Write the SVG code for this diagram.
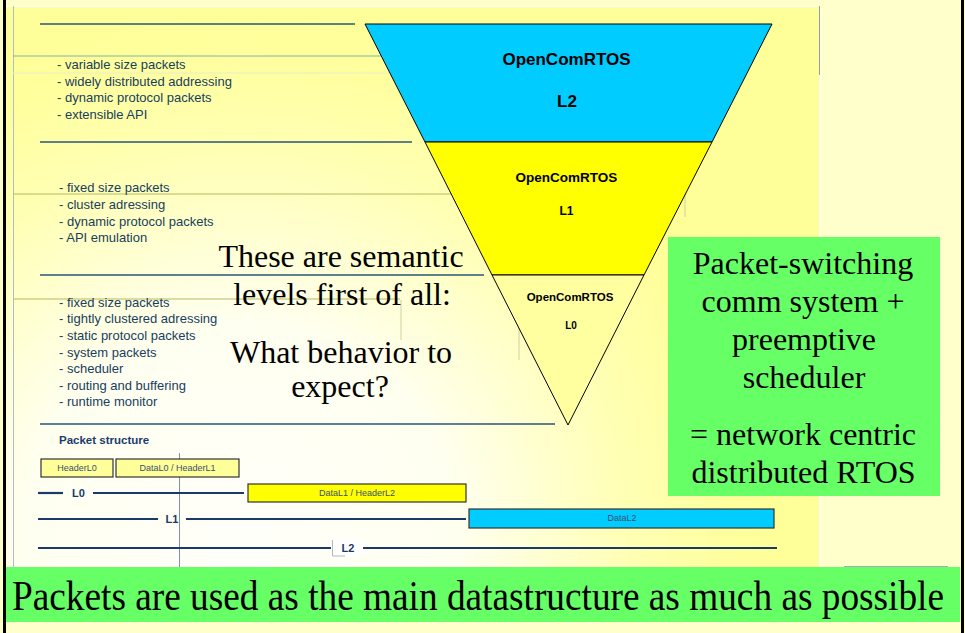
<svg xmlns="http://www.w3.org/2000/svg" width="965" height="633" viewBox="0 0 965 633">
  <defs>
    <radialGradient id="slideBg" gradientUnits="userSpaceOnUse" cx="240" cy="540" r="540">
      <stop offset="0" stop-color="#fffffa"/>
      <stop offset="0.4" stop-color="#fffff0"/>
      <stop offset="0.72" stop-color="#ffffb4"/>
      <stop offset="0.92" stop-color="#ffff9c"/>
      <stop offset="1" stop-color="#ffff99"/>
    </radialGradient>
    <style>
      .bullet { font-family: "Liberation Sans", Arial, sans-serif; font-size: 13px; fill: #18405e; }
      .serif { font-family: "Liberation Serif", "Times New Roman", serif; fill: #000; }
      .big { font-size: 32px; text-anchor: middle; }
      .tri { font-family: "Liberation Sans", Arial, sans-serif; font-weight: bold; fill: #000; text-anchor: middle; }
      .rule { stroke: #2a5578; stroke-width: 1.6; fill: none; }
      .thin { stroke-width: 1; fill: none; }
      .wire { stroke: #1a3a6a; stroke-width: 2.2; fill: none; }
      .lvl { font-family: "Liberation Sans", Arial, sans-serif; font-weight: bold; font-size: 11px; fill: #1a3a6a; text-anchor: middle; }
      .pkt { stroke: #333; stroke-width: 1.2; }
      .pktText { font-family: "Liberation Sans", Arial, sans-serif; font-size: 9px; fill: #3a5070; text-anchor: middle; }
      .edge { stroke: #000; stroke-width: 1; }
    </style>
  </defs>

  <!-- page -->
  <rect x="0" y="0" width="965" height="633" fill="#ffffcc"/>
  <rect x="6" y="6" width="814" height="561" fill="url(#slideBg)"/>
  <line x1="6" y1="6.5" x2="820" y2="6.5" stroke="#ffffff" stroke-width="1"/>
  <line x1="820" y1="6" x2="820" y2="567" stroke="#ffffff" stroke-width="1.5"/>
  <line x1="819.5" y1="6" x2="819.5" y2="75" stroke="#999999" stroke-width="1"/>
  <rect x="3" y="0" width="3" height="633" fill="#000"/>
  <rect x="961" y="0" width="3" height="633" fill="#000"/>

  <!-- separators -->
  <g id="rules">
    <line class="thin" x1="13.5" y1="6" x2="13.5" y2="567" stroke="#b0bccc"/>
    <line class="rule" x1="40" y1="24" x2="355" y2="24"/>
    <line class="thin" x1="13" y1="56" x2="381" y2="56" stroke="#7fb5a5"/>
    <line class="thin" x1="13" y1="73" x2="389" y2="73" stroke="#e4f0c4"/>
    <line class="rule" x1="40" y1="142" x2="412" y2="142"/>
    <line class="thin" x1="13" y1="194" x2="451" y2="194" stroke="#b8b860"/>
    <line class="rule" x1="40" y1="275" x2="484" y2="275"/>
    <line class="thin" x1="13" y1="299" x2="400" y2="299" stroke="#b8b860"/>
    <line class="thin" x1="401" y1="300" x2="401" y2="340" stroke="#d0d0a0"/>
    <line class="thin" x1="519" y1="327" x2="519" y2="360" stroke="#d0d0a0"/>
    <line class="thin" x1="685" y1="193" x2="685" y2="217" stroke="#d0d0a0"/>
    <line class="rule" x1="40" y1="424" x2="555" y2="424"/>
    <line class="thin" x1="844" y1="566.5" x2="948" y2="566.5" stroke="#a8a8b8"/>
  </g>

  <!-- layer pyramid -->
  <g id="layer-l2">
    <polygon class="edge" points="365,24 772,24 712,142 425,142" fill="#00ccff"/>
    <text class="tri" x="566.5" y="65" font-size="17">OpenComRTOS</text>
    <text class="tri" x="567" y="107" font-size="17">L2</text>
  </g>
  <g id="layer-l1">
    <polygon class="edge" points="425,142 712,142 644,275 492,275" fill="#ffff00"/>
    <text class="tri" x="566.5" y="182" font-size="13.5">OpenComRTOS</text>
    <text class="tri" x="566.5" y="215" font-size="12">L1</text>
  </g>
  <g id="layer-l0">
    <polygon class="edge" points="492,275 644,275 568,425" fill="#ffffa0"/>
    <text class="tri" x="570" y="301" font-size="11.5">OpenComRTOS</text>
    <text class="tri" x="571" y="329" font-size="10">L0</text>
  </g>

  <!-- feature lists -->
  <g id="features-l2">
    <text class="bullet" x="57" y="69">- variable size packets</text>
    <text class="bullet" x="57" y="86">- widely distributed addressing</text>
    <text class="bullet" x="57" y="102">- dynamic protocol packets</text>
    <text class="bullet" x="57" y="119">- extensible API</text>
  </g>
  <g id="features-l1">
    <text class="bullet" x="59" y="192">- fixed size packets</text>
    <text class="bullet" x="59" y="209">- cluster adressing</text>
    <text class="bullet" x="59" y="226">- dynamic protocol packets</text>
    <text class="bullet" x="59" y="242">- API emulation</text>
  </g>
  <g id="features-l0">
    <text class="bullet" x="59" y="307">- fixed size packets</text>
    <text class="bullet" x="59" y="323">- tightly clustered adressing</text>
    <text class="bullet" x="59" y="340">- static protocol packets</text>
    <text class="bullet" x="59" y="357">- system packets</text>
    <text class="bullet" x="59" y="373">- scheduler</text>
    <text class="bullet" x="59" y="390">- routing and buffering</text>
    <text class="bullet" x="59" y="406">- runtime monitor</text>
  </g>

  <!-- semantic note -->
  <g id="semantic-note">
    <text class="serif big" x="341" y="267">These are semantic</text>
    <text class="serif big" x="342" y="305">levels first of all:</text>
    <text class="serif big" x="341" y="363">What behavior to</text>
    <text class="serif big" x="340" y="397">expect?</text>
  </g>

  <!-- summary box -->
  <g id="summary">
    <rect x="668" y="237" width="272" height="259" fill="#66ff66"/>
    <text class="serif big" x="803" y="274">Packet-switching</text>
    <text class="serif big" x="803" y="312">comm system +</text>
    <text class="serif big" x="804" y="350">preemptive</text>
    <text class="serif big" x="804" y="388">scheduler</text>
    <text class="serif big" x="803" y="445">= network centric</text>
    <text class="serif big" x="803.5" y="483">distributed RTOS</text>
  </g>

  <!-- packet structure -->
  <g id="packet-title">
    <text x="59" y="444" font-family="'Liberation Sans', Arial, sans-serif" font-weight="bold" font-size="11.5" fill="#1a3d6b">Packet structure</text>
  </g>
  <g id="connectors">
    <line class="thin" x1="179.5" y1="453" x2="179.5" y2="567" stroke="#8090a8"/>
    <line class="wire" x1="38" y1="493" x2="63" y2="493"/>
    <line class="wire" x1="93" y1="493" x2="244" y2="493"/>
    <line class="wire" x1="38" y1="519" x2="158" y2="519"/>
    <line class="wire" x1="186" y1="519" x2="466" y2="519"/>
    <line class="wire" x1="38" y1="548" x2="331" y2="548"/>
    <line class="wire" x1="363" y1="548" x2="777" y2="548"/>
  </g>
  <g id="label-l0"><text class="lvl" x="78.5" y="497">L0</text></g>
  <g id="label-l1"><text class="lvl" x="172" y="523">L1</text></g>
  <g id="label-l2">
    <rect x="332" y="540" width="31" height="16" fill="#ffffff"/>
    <polyline points="332.5,540 332.5,556 345,556" fill="none" stroke="#b0b8c8" stroke-width="1"/>
    <text class="lvl" x="348" y="552">L2</text>
  </g>
  <g id="pkt-header-l0">
    <rect class="pkt" x="41" y="459" width="72" height="18" fill="#ffff99"/>
    <text class="pktText" x="77" y="471">HeaderL0</text>
  </g>
  <g id="pkt-data-l0">
    <rect class="pkt" x="116" y="459" width="123" height="18" fill="#ffff99"/>
    <text class="pktText" x="177.5" y="471">DataL0 / HeaderL1</text>
  </g>
  <g id="pkt-data-l1">
    <rect class="pkt" x="248" y="484" width="218" height="18" fill="#ffff00"/>
    <text class="pktText" x="357" y="496">DataL1 / HeaderL2</text>
  </g>
  <g id="pkt-data-l2">
    <rect class="pkt" x="469" y="509" width="305" height="19" fill="#00ccff"/>
    <text class="pktText" x="622" y="521">DataL2</text>
  </g>

  <!-- bottom banner -->
  <g id="banner">
    <rect x="6" y="567" width="954" height="55" fill="#66ff66"/>
    <text class="serif" x="12" y="610" font-size="42" textLength="932" lengthAdjust="spacingAndGlyphs">Packets are used as the main datastructure as much as possible</text>
  </g>
</svg>
